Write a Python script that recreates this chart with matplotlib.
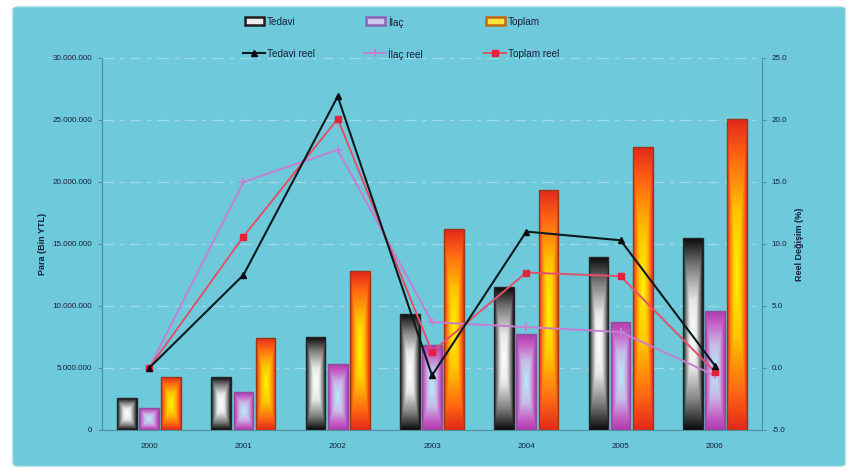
import numpy as np
import matplotlib
matplotlib.use("Agg")
import matplotlib.pyplot as plt
from matplotlib.colors import LinearSegmentedColormap
from matplotlib.patches import Rectangle, FancyBboxPatch
from matplotlib.lines import Line2D

plt.rcParams['font.family'] = ['Liberation Sans', 'DejaVu Sans']

# Yearly spending (thousand YTL) and real change (%)
years = ["2000", "2001", "2002", "2003", "2004", "2005", "2006"]
tedavi = [2580000, 4270000, 7500000, 9350000, 11530000, 13950000, 15480000]
ilac = [1770000, 3060000, 5320000, 6850000, 7740000, 8710000, 9600000]
toplam = [4270000, 7420000, 12820000, 16200000, 19350000, 22800000, 25080000]
tedavi_reel = [0.0, 7.5, 21.9, -0.6, 11.0, 10.3, 0.2]
ilac_reel = [0.0, 15.0, 17.6, 3.7, 3.3, 2.9, -0.6]
toplam_reel = [0.0, 10.6, 20.1, 1.3, 7.7, 7.4, -0.3]

left_ticks = [0, 5000000, 10000000, 15000000, 20000000, 25000000, 30000000]
right_ticks = [-5, 0, 5, 10, 15, 20, 25]

BG = '#6ec9da'
TXT = '#16223a'
AXC = '#4f8f9c'

fig = plt.figure(figsize=(8.48, 4.70), dpi=100)
fig.patch.set_facecolor('white')
W, H = 848, 470
panel = FancyBboxPatch((13 / W, 4 / H), (845 - 13) / W, (463 - 4) / H,
                       boxstyle="round,pad=0,rounding_size=0.006",
                       transform=fig.transFigure, facecolor=BG,
                       edgecolor='#8fd6e3', lw=1.0, zorder=-5)
fig.patches.append(panel)

ax = fig.add_axes([102 / W, 1 - 430 / H, (762 - 102) / W, (430 - 58) / H])
ax.set_facecolor('none')
ax2 = ax.twinx()
ax2.set_facecolor('none')

x = np.arange(len(years))
bw = 0.21
off = 0.235

cmaps = {
    'tedavi': LinearSegmentedColormap.from_list(
        't', [(0, '#ffffff'), (0.35, '#e8e8e8'), (0.7, '#808080'), (1, '#0c0c0c')]),
    'ilac': LinearSegmentedColormap.from_list(
        'i', [(0, '#b4eef6'), (0.45, '#c9b8e6'), (0.8, '#c35cc4'), (1, '#b03aae')]),
    'toplam': LinearSegmentedColormap.from_list(
        'p', [(0, '#fff400'), (0.4, '#ffc400'), (0.75, '#ff6a12'), (1, '#e42a1a')]),
}
edges = {'tedavi': '#262626', 'ilac': '#8c4f9c', 'toplam': '#9a3a14'}

# Rectangular "from centre" gradient, sampled once and stretched over each bar
n = 120
u = np.linspace(-1, 1, n)
U, V = np.meshgrid(u, u)
grad = np.maximum(np.abs(U), np.abs(V))


def gradient_bars(xpos, vals, key):
    bars = ax.bar(xpos, vals, width=bw, facecolor='none',
                  edgecolor=edges[key], lw=1.0, zorder=3)
    for b in bars:
        x0, y0 = b.get_x(), b.get_y()
        w, h = b.get_width(), b.get_height()
        im = ax.imshow(grad, cmap=cmaps[key], vmin=0, vmax=1,
                       extent=(x0, x0 + w, y0, y0 + h), aspect='auto',
                       interpolation='bilinear', origin='lower', zorder=2)
        im.set_clip_path(b)
    return bars


gradient_bars(x - off, tedavi, 'tedavi')
gradient_bars(x, ilac, 'ilac')
gradient_bars(x + off, toplam, 'toplam')

ax.set_xlim(-0.5, len(years) - 0.5)
ax.set_ylim(0, 30000000)
ax.set_yticks(left_ticks)
ax.set_yticklabels(['{:,.0f}'.format(v).replace(',', '.') for v in left_ticks])
ax.set_xticks(x)
ax.set_xticklabels(years)

for v in left_ticks[1:]:
    ax.axhline(v, color='#9fdbe6', lw=0.9, ls=(0, (9, 5, 3, 5)), zorder=1)

# Real change lines on the secondary axis
ax2.plot(x, ilac_reel, color='#c47fd2', lw=1.4, marker='+', ms=6,
         mew=1.3, mec='#c47fd2', zorder=4)
ax2.plot(x, toplam_reel, color='#e2506a', lw=1.4, marker='s', ms=4.5,
         mfc='#e8203c', mec='#e8203c', zorder=5)
ax2.plot(x, tedavi_reel, color='#0b1a1e', lw=1.5, marker='^', ms=4.5,
         mfc='#050a0c', mec='#050a0c', zorder=6)
ax2.set_ylim(-5, 25)
ax2.set_yticks(right_ticks)
ax2.set_yticklabels([f'{v:.1f}' for v in right_ticks])

for a in (ax, ax2):
    for s in a.spines.values():
        s.set_color(AXC)
        s.set_linewidth(0.8)
    a.spines['top'].set_visible(False)
ax2.spines['left'].set_visible(False)
ax2.spines['bottom'].set_visible(False)
ax.spines['right'].set_visible(False)

ax.tick_params(axis='y', length=3, width=0.7, color=AXC, labelsize=5.8,
               labelcolor=TXT, pad=4)
ax.tick_params(axis='x', length=0, labelsize=5.8, labelcolor=TXT, pad=9)
ax2.tick_params(axis='y', length=3, width=0.7, color=AXC, labelsize=5.8,
                labelcolor=TXT, pad=4)

ax.set_ylabel('Para (Bin YTL)', fontsize=6.5, fontweight='bold', color=TXT)
ax.yaxis.set_label_coords(-(102 - 47) / 660, 0.5)
ax2.set_ylabel('Reel Değişim (%)', fontsize=6.5, fontweight='bold',
               color=TXT, rotation=90)
ax2.yaxis.set_label_coords(1 + (795 - 762) / 660, 0.5)

# Legend: three columns, bar swatches on the first row, lines on the second
def fx(px):
    return px / W


def fy(py):
    return 1 - py / H


swatches = [('Tedavi', '#ececec', '#1e1e1e'),
            ('İlaç', '#cfc6f2', '#8a64b6'),
            ('Toplam', '#ffe23a', '#c06a12')]
line_styles = [('Tedavi reel', dict(color='#0b1a1e', lw=1.5, marker='^', ms=4.5,
                                    mfc='#050a0c', mec='#050a0c')),
               ('İlaç reel', dict(color='#c47fd2', lw=1.4, marker='+', ms=6,
                                  mew=1.3)),
               ('Toplam reel', dict(color='#e2506a', lw=1.4, marker='s', ms=4.5,
                                    mfc='#e8203c', mec='#e8203c'))]
col_x = [243, 364, 484]
row1, row2 = 21, 53
for cx, (lab, fc, ec), (llab, kw) in zip(col_x, swatches, line_styles):
    fig.patches.append(Rectangle((fx(cx + 2), fy(row1 + 4)), 19 / W, 8 / H,
                                 transform=fig.transFigure, facecolor=fc,
                                 edgecolor=ec, lw=1.8, zorder=5))
    fig.text(fx(cx + 24), fy(row1), lab, fontsize=7.2, color=TXT,
             ha='left', va='center_baseline')
    fig.lines.append(Line2D([fx(cx), fx(cx + 11), fx(cx + 22)],
                            [fy(row2)] * 3, transform=fig.transFigure,
                            markevery=[1], **kw))
    fig.text(fx(cx + 24), fy(row2), llab, fontsize=7.2, color=TXT,
             ha='left', va='center_baseline')

fig.savefig('out.png', dpi=100, facecolor=fig.get_facecolor())
